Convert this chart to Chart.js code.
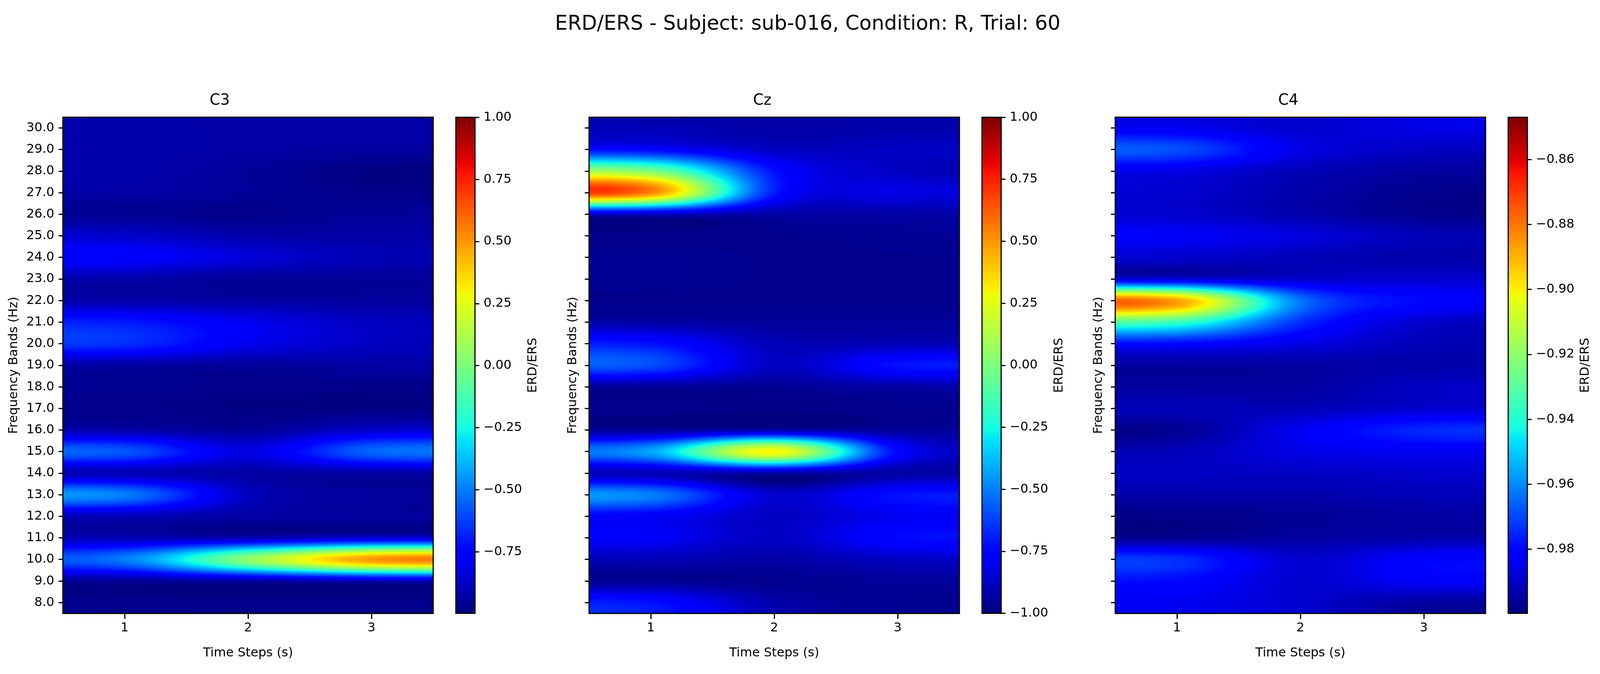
<!DOCTYPE html>
<html>
<head>
<meta charset="utf-8">
<title>ERD/ERS</title>
<script src="https://cdn.jsdelivr.net/npm/chart.js@4"></script>
<style>
  html, body { margin: 0; padding: 0; background: #fff; }
  body { height: 1725px; position: relative; overflow: hidden; }
  canvas { position: absolute; }
  #suptitle { position: absolute; top: 18px; transform: translateX(-50%); line-height: 80px; white-space: nowrap; color: #000; font-family: "DejaVu Sans"; }
</style>
</head>
<body>
<div id="suptitle">ERD/ERS - Subject: sub-016, Condition: R, Trial: 60</div>
<script>
const timeSteps = [1, 2, 3];
const bands = [30, 29, 28, 27, 26, 25, 24, 23, 22, 21, 20, 19, 18, 17, 16, 15, 14, 13, 12, 11, 10, 9, 8];

// one row per band (30 Hz down to 8 Hz), one value per time step
const c3Values = [
  [-0.92, -0.93, -0.93], [-0.92, -0.93, -0.94], [-0.92, -0.95, -0.985], [-0.93, -0.95, -0.975],
  [-0.96, -0.97, -0.95], [-0.86, -0.92, -0.93], [-0.76, -0.84, -0.90], [-0.92, -0.95, -0.95],
  [-0.92, -0.93, -0.94], [-0.70, -0.80, -0.88], [-0.66, -0.80, -0.88], [-0.93, -0.95, -0.93],
  [-0.96, -0.97, -0.975], [-0.97, -0.985, -0.985], [-0.92, -0.95, -0.86], [-0.58, -0.82, -0.55],
  [-0.90, -0.93, -0.93], [-0.50, -0.88, -0.94], [-0.90, -0.93, -0.94], [-0.90, -0.90, -0.85],
  [-0.50, 0.05, 0.50], [-0.95, -0.93, -0.90], [-0.97, -0.97, -0.97]
];
const czValues = [
  [-0.90, -0.93, -0.92], [-0.75, -0.88, -0.88], [0.00, -0.72, -0.88], [0.54, -0.70, -0.82],
  [-0.88, -0.93, -0.93], [-0.97, -0.97, -0.96], [-0.96, -0.97, -0.97], [-0.96, -0.97, -0.97],
  [-0.97, -0.97, -0.97], [-0.93, -0.95, -0.95], [-0.72, -0.90, -0.90], [-0.60, -0.88, -0.72],
  [-0.95, -0.96, -0.93], [-0.97, -0.98, -0.97], [-0.95, -0.92, -0.95], [-0.42, 0.30, -0.74],
  [-0.90, -0.93, -0.93], [-0.50, -0.86, -0.72], [-0.78, -0.88, -0.80], [-0.78, -0.88, -0.74],
  [-0.90, -0.93, -0.88], [-0.96, -0.97, -0.95], [-0.72, -0.92, -0.96]
];
const c4Values = [
  [-0.9844, -0.989, -0.986], [-0.969, -0.986, -0.9905], [-0.986, -0.992, -0.995], [-0.989, -0.9936, -0.9975],
  [-0.989, -0.9936, -0.9975], [-0.983, -0.987, -0.992], [-0.989, -0.992, -0.9936], [-0.9875, -0.989, -0.989],
  [-0.887, -0.963, -0.98], [-0.9356, -0.9737, -0.989], [-0.98, -0.986, -0.992], [-0.995, -0.995, -0.9936],
  [-0.995, -0.995, -0.9905], [-0.992, -0.992, -0.989], [-0.9966, -0.9844, -0.975], [-0.992, -0.986, -0.9844],
  [-0.9905, -0.9905, -0.989], [-0.9936, -0.9936, -0.992], [-0.998, -0.9966, -0.995], [-0.9966, -0.995, -0.9936],
  [-0.9737, -0.989, -0.981], [-0.98, -0.989, -0.983], [-0.9844, -0.989, -0.995]
];

const c3Ticks = [-0.75, -0.5, -0.25, 0, 0.25, 0.5, 0.75, 1];
const czTicks = [-1, -0.75, -0.5, -0.25, 0, 0.25, 0.5, 0.75, 1];
const c4Ticks = [-0.98, -0.96, -0.94, -0.92, -0.9, -0.88, -0.86];

const panels = [
  { name: "C3", values: c3Values, vmin: -0.997, vmax: 1, barTicks: c3Ticks, titleX: 46, left: 209, barLeft: 1515, showBands: true },
  { name: "Cz", values: czValues, vmin: -1, vmax: 1, barTicks: czTicks, titleX: 1904, left: 1958, barLeft: 3264, showBands: false },
  { name: "C4", values: c4Values, vmin: -0.9997, vmax: -0.847, barTicks: c4Ticks, titleX: 3652, left: 3707, barLeft: 5014, showBands: false }
];

// layout numbers are for the 5319 wide figure, the window can come out narrower so x is scaled to fit
const sx = window.innerWidth / 5319;
const FONT = "DejaVu Sans";
const SIZE = 41.67 * sx;
const AXES_W = 1231, AXES_TOP = 300, AXES_BOTTOM = 1570, BAR_W = 64, LW = 3;

const sup = document.getElementById("suptitle");
sup.style.left = 2685 * sx + "px";
sup.style.fontSize = 66.67 * sx + "px";

// matplotlib jet
const jetR = [[0, 0], [0.35, 0], [0.66, 1], [0.89, 1], [1, 0.5]];
const jetG = [[0, 0], [0.125, 0], [0.375, 1], [0.64, 1], [0.91, 0], [1, 0]];
const jetB = [[0, 0.5], [0.11, 1], [0.34, 1], [0.65, 0], [1, 0]];

function stop(arr, t) {
  for (let i = 1; i < arr.length; i++) {
    if (t <= arr[i][0]) {
      const a = arr[i - 1], b = arr[i];
      return a[1] + (b[1] - a[1]) * (t - a[0]) / (b[0] - a[0]);
    }
  }
  return arr[arr.length - 1][1];
}
const jetLut = [];
for (let i = 0; i < 256; i++) {
  const t = i / 255;
  jetLut.push([stop(jetR, t) * 255, stop(jetG, t) * 255, stop(jetB, t) * 255]);
}
function jet(n) {
  return jetLut[Math.max(0, Math.min(255, Math.floor(n * 256)))];
}

// cubic weights, edges mirror like imshow
function weights(f) {
  const f2 = f * f, f3 = f2 * f;
  return [-0.5 * f3 + f2 - 0.5 * f, 1.5 * f3 - 2.5 * f2 + 1, -1.5 * f3 + 2 * f2 + 0.5 * f, 0.5 * f3 - 0.5 * f2];
}
function mirror(i, n) {
  if (i < 0) return -i - 1;
  if (i >= n) return 2 * n - i - 1;
  return i;
}

function frame(ctx, a) {
  ctx.save();
  ctx.strokeStyle = "#000";
  ctx.lineWidth = LW;
  ctx.strokeRect(a.left, a.top, a.right - a.left, a.bottom - a.top);
  ctx.restore();
}

// smooth image of the dataset cells, placed through the chart scales
const heatmapPlugin = {
  id: "heatmap",
  beforeDatasetsDraw(chart, args, opts) {
    const a = chart.chartArea, xs = chart.scales.x, ys = chart.scales.y;
    const w = Math.round(a.right - a.left), h = Math.round(a.bottom - a.top);
    const pts = chart.data.datasets[0].data;
    const nx = timeSteps.length, ny = bands.length;
    const grid = [];
    for (let j = 0; j < ny; j++) grid.push(new Array(nx));
    pts.forEach(p => { grid[bands.indexOf(p.y)][timeSteps.indexOf(p.x)] = p.v; });

    const off = document.createElement("canvas");
    off.width = w; off.height = h;
    const octx = off.getContext("2d");
    const img = octx.createImageData(w, h);
    const colW = [], colI = [];
    for (let i = 0; i < w; i++) {
      const u = xs.getValueForPixel(a.left + i + 0.5) - timeSteps[0];
      const i0 = Math.floor(u);
      colW.push(weights(u - i0));
      colI.push(i0);
    }
    for (let y = 0; y < h; y++) {
      const r = bands[0] - ys.getValueForPixel(a.top + y + 0.5);
      const r0 = Math.floor(r), wy = weights(r - r0);
      const line = [];
      for (let c = 0; c < nx; c++) {
        let s = 0;
        for (let k = 0; k < 4; k++) s += wy[k] * grid[mirror(r0 - 1 + k, ny)][c];
        line.push(s);
      }
      for (let x = 0; x < w; x++) {
        let s = 0;
        for (let k = 0; k < 4; k++) s += colW[x][k] * line[mirror(colI[x] - 1 + k, nx)];
        const col = jet((s - opts.vmin) / (opts.vmax - opts.vmin));
        const o = (y * w + x) * 4;
        img.data[o] = col[0]; img.data[o + 1] = col[1]; img.data[o + 2] = col[2]; img.data[o + 3] = 255;
      }
    }
    octx.putImageData(img, 0, 0);
    chart.ctx.drawImage(off, a.left, a.top);
  },
  afterDraw(chart) { frame(chart.ctx, chart.chartArea); }
};

// colour strip and its rotated label
const colorbarPlugin = {
  id: "colorbar",
  beforeDatasetsDraw(chart, args, opts) {
    const a = chart.chartArea, ys = chart.scales.y, ctx = chart.ctx;
    for (let py = Math.floor(a.top); py < a.bottom; py++) {
      const v = ys.getValueForPixel(py + 0.5);
      const c = jet((v - opts.vmin) / (opts.vmax - opts.vmin));
      ctx.fillStyle = `rgb(${c[0]},${c[1]},${c[2]})`;
      ctx.fillRect(a.left, py, a.right - a.left, 1);
    }
  },
  afterDraw(chart, args, opts) {
    const a = chart.chartArea, ctx = chart.ctx;
    frame(ctx, a);
    ctx.save();
    ctx.translate(a.left + 257 * sx, (a.top + a.bottom) / 2);
    ctx.rotate(-Math.PI / 2);
    ctx.font = `${SIZE}px "${FONT}"`;
    ctx.fillStyle = "#000";
    ctx.textAlign = "center";
    ctx.textBaseline = "middle";
    ctx.fillText(opts.label, 0, 0);
    ctx.restore();
  }
};

function addCanvas(left, top, width, height) {
  const c = document.createElement("canvas");
  c.width = width; c.height = height;
  c.style.left = left + "px"; c.style.top = top + "px";
  document.body.appendChild(c);
  return c;
}

const tickFont = { family: FONT, size: SIZE };
const yGrid = { drawOnChartArea: false, tickLength: Math.round(14 * sx), tickWidth: LW, tickColor: "#000" };
const xGrid = { drawOnChartArea: false, tickLength: 14, tickWidth: LW, tickColor: "#000" };

panels.forEach(p => {
  const points = [];
  bands.forEach((b, j) => timeSteps.forEach((t, i) => points.push({ x: t, y: b, v: p.values[j][i] })));

  const titleH = 50 * sx * 1.2;
  const top = Math.round(258 - titleH / 2);
  const canvasLeft = Math.round(p.titleX * sx - SIZE * 0.6);
  const axesLeft = Math.round(p.left * sx), axesRight = Math.round((p.left + AXES_W) * sx);
  new Chart(addCanvas(canvasLeft, top, axesRight + 4 - canvasLeft, 1725 - top), {
    type: "scatter",
    data: { datasets: [{ data: points, pointRadius: 0, pointHoverRadius: 0 }] },
    plugins: [heatmapPlugin],
    options: {
      responsive: false,
      animation: false,
      devicePixelRatio: 1,
      layout: { autoPadding: false, padding: { left: 0, right: 4, top: 0, bottom: 34 } },
      plugins: {
        legend: { display: false },
        tooltip: { enabled: false },
        heatmap: { vmin: p.vmin, vmax: p.vmax },
        title: { display: true, text: p.name, color: "#000", padding: { top: 0, bottom: AXES_TOP - top - titleH }, font: { family: FONT, size: 50 * sx, weight: "normal", lineHeight: 1.2 } }
      },
      scales: {
        x: {
          type: "linear", min: 0.5, max: 3.5,
          afterBuildTicks: s => { s.ticks = timeSteps.map(v => ({ value: v })); },
          afterFit: s => { s.height = 1725 - AXES_BOTTOM - 34; },
          grid: xGrid,
          border: { display: false },
          ticks: { color: "#000", font: tickFont, padding: 4, maxRotation: 0, autoSkip: false, callback: v => String(v) },
          title: { display: true, text: "Time Steps (s)", color: "#000", padding: 0, font: { family: FONT, size: SIZE, lineHeight: 1.2 } }
        },
        y: {
          type: "linear", min: 7.5, max: 30.5,
          afterBuildTicks: s => { s.ticks = bands.map(v => ({ value: v })); },
          afterFit: s => { s.width = axesLeft - canvasLeft; },
          grid: yGrid,
          border: { display: false },
          ticks: { color: "#000", font: tickFont, padding: Math.round(14 * sx), autoSkip: false, callback: v => p.showBands ? v.toFixed(1) : "" },
          title: { display: true, text: "Frequency Bands (Hz)", color: "#000", padding: 0, font: { family: FONT, size: SIZE, lineHeight: 1.2 } }
        }
      }
    }
  });

  const barTop = AXES_TOP - 30, barH = AXES_BOTTOM - AXES_TOP + 60;
  const barLeft = Math.round(p.barLeft * sx), barW = Math.round(BAR_W * sx), barCanvasW = Math.round(305 * sx);
  new Chart(addCanvas(barLeft - 4, barTop, barCanvasW, barH), {
    type: "scatter",
    data: { datasets: [{ data: [], pointRadius: 0 }] },
    plugins: [colorbarPlugin],
    options: {
      responsive: false,
      animation: false,
      devicePixelRatio: 1,
      layout: { autoPadding: false, padding: { left: 4, right: 0, top: 30, bottom: 30 } },
      plugins: {
        legend: { display: false },
        tooltip: { enabled: false },
        colorbar: { vmin: p.vmin, vmax: p.vmax, label: "ERD/ERS" }
      },
      scales: {
        x: { type: "linear", display: false },
        y: {
          type: "linear", position: "right", min: p.vmin, max: p.vmax,
          afterBuildTicks: s => { s.ticks = p.barTicks.map(v => ({ value: v })); },
          afterFit: s => { s.width = barCanvasW - 4 - barW; },
          grid: yGrid,
          border: { display: false },
          ticks: { color: "#000", font: tickFont, padding: Math.round(14 * sx), autoSkip: false, callback: v => v.toFixed(2).replace("-", "\u2212") }
        }
      }
    }
  });
});
</script>
</body>
</html>
